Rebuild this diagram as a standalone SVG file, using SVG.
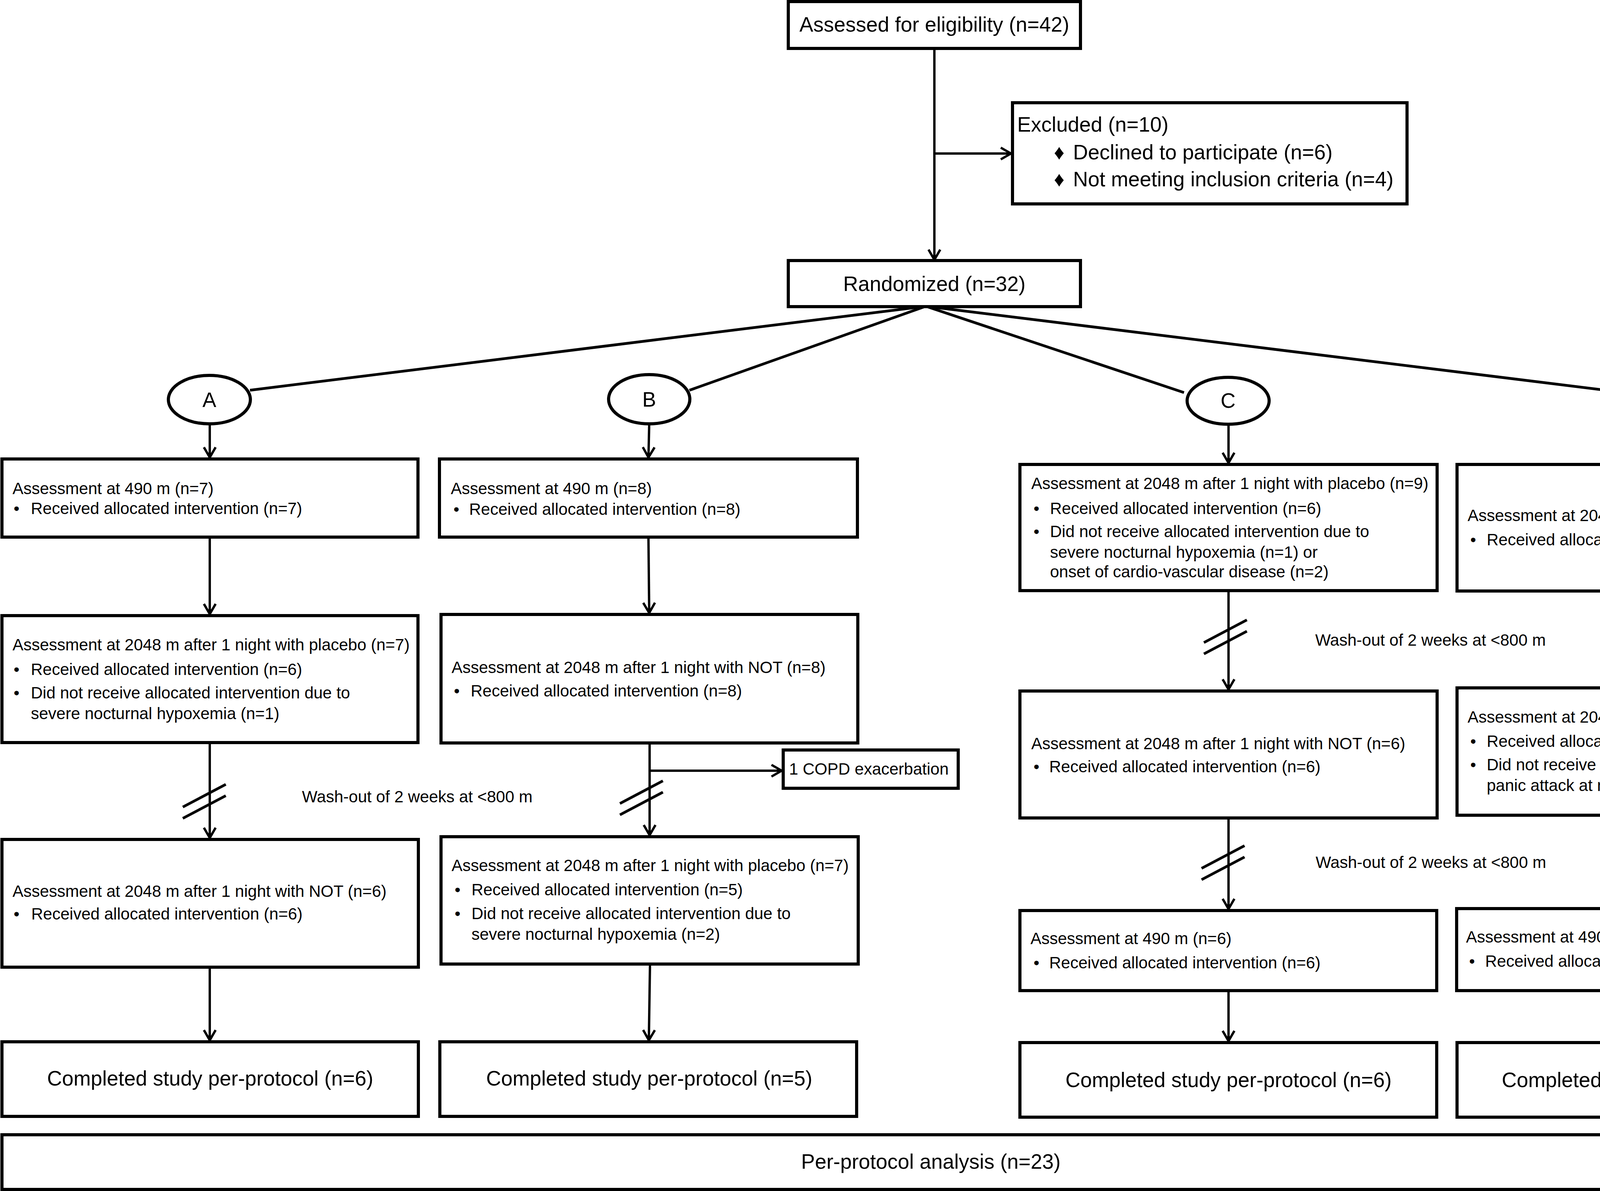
<svg xmlns="http://www.w3.org/2000/svg" xmlns:xlink="http://www.w3.org/1999/xlink" width="5066" height="3049" viewBox="0 0 5066 3049">
<style>
.box{fill:#fff;stroke:#000;stroke-width:8}
.ov{fill:#fff;stroke:#000;stroke-width:8}
.c{fill:none;stroke:#000;stroke-width:6}
.f{fill:none;stroke:#000;stroke-width:7}
.s{font-family:'Liberation Sans',Arial,'DejaVu Sans',sans-serif;font-size:42px;fill:#000}
.l{font-family:'Liberation Sans',Arial,'DejaVu Sans',sans-serif;font-size:53px;fill:#000}
.m{text-anchor:middle}
</style>
<defs>
<marker id="ah" markerUnits="userSpaceOnUse" viewBox="-30 -18 36 36" refX="2" refY="0" markerWidth="36" markerHeight="36" orient="auto">
<path d="M-26,-15 L0,0 L-26,15" fill="none" stroke="#000" stroke-width="6"/>
</marker>
<g id="brk" fill="none" stroke="#000" stroke-width="7">
<line x1="-55" y1="15" x2="55" y2="-43"/>
<line x1="-55" y1="44" x2="55" y2="-14"/>
</g>
</defs>
<rect width="5066" height="3049" fill="#fff"/>

<g id="connectors">
<line class="c" x1="2392" y1="124" x2="2392" y2="667" marker-end="url(#ah)"/>
<line class="c" x1="2392" y1="393" x2="2590" y2="393" marker-end="url(#ah)"/>
<line class="f" x1="2370" y1="784" x2="640" y2="999"/>
<line class="f" x1="2370" y1="784" x2="1765" y2="999"/>
<line class="f" x1="2370" y1="784" x2="3031" y2="1005"/>
<line class="f" x1="2370" y1="784" x2="4159" y2="1005"/>

<line class="c" x1="537" y1="1085" x2="537" y2="1173" marker-end="url(#ah)"/>
<line class="c" x1="537" y1="1375" x2="537" y2="1574" marker-end="url(#ah)"/>
<line class="c" x1="537" y1="1901" x2="537" y2="2147" marker-end="url(#ah)"/>
<line class="c" x1="537" y1="2476" x2="537" y2="2665" marker-end="url(#ah)"/>

<line class="c" x1="1662" y1="1085" x2="1660" y2="1173" marker-end="url(#ah)"/>
<line class="c" x1="1660" y1="1375" x2="1662" y2="1571" marker-end="url(#ah)"/>
<line class="c" x1="1663" y1="1902" x2="1663" y2="2140" marker-end="url(#ah)"/>
<line class="c" x1="1663" y1="1973" x2="2003" y2="1973" marker-end="url(#ah)"/>
<line class="c" x1="1664" y1="2468" x2="1661" y2="2665" marker-end="url(#ah)"/>

<line class="c" x1="3145" y1="1086" x2="3145" y2="1187" marker-end="url(#ah)"/>
<line class="c" x1="3145" y1="1512" x2="3145" y2="1767" marker-end="url(#ah)"/>
<line class="c" x1="3145" y1="2094" x2="3145" y2="2329" marker-end="url(#ah)"/>
<line class="c" x1="3145" y1="2536" x2="3145" y2="2667" marker-end="url(#ah)"/>

<line class="c" x1="4264" y1="1085" x2="4264" y2="1187" marker-end="url(#ah)"/>
<line class="c" x1="4264" y1="1513" x2="4264" y2="1759" marker-end="url(#ah)"/>
<line class="c" x1="4264" y1="2087" x2="4264" y2="2324" marker-end="url(#ah)"/>
<line class="c" x1="4264" y1="2143" x2="4618" y2="2143" marker-end="url(#ah)"/>
<line class="c" x1="4264" y1="2536" x2="4264" y2="2667" marker-end="url(#ah)"/>

<use xlink:href="#brk" href="#brk" x="523" y="2051"/>
<use xlink:href="#brk" href="#brk" x="1642" y="2042"/>
<use xlink:href="#brk" href="#brk" x="3137" y="1630"/>
<use xlink:href="#brk" href="#brk" x="3131" y="2208"/>
<use xlink:href="#brk" href="#brk" x="4252" y="1630"/>
<use xlink:href="#brk" href="#brk" x="4243" y="2208"/>

<text class="s" x="773" y="2054">Wash-out of 2 weeks at &lt;800 m</text>
<text class="s" x="3367" y="1653">Wash-out of 2 weeks at &lt;800 m</text>
<text class="s" x="3368" y="2222">Wash-out of 2 weeks at &lt;800 m</text>
</g>

<g id="assessed">
<rect class="box" x="2018" y="4" width="748" height="120"/>
<text class="l m" x="2392" y="81">Assessed for eligibility (n=42)</text>
</g>

<g id="excluded">
<rect class="box" x="2592" y="263" width="1010" height="259"/>
<text class="l" x="2604" y="337">Excluded (n=10)</text>
<text class="l"><tspan x="2698" y="408">♦</tspan><tspan x="2747" y="408">Declined to participate (n=6)</tspan></text>
<text class="l"><tspan x="2698" y="477">♦</tspan><tspan x="2747" y="477">Not meeting inclusion criteria (n=4)</tspan></text>
</g>

<g id="randomized">
<rect class="box" x="2018" y="667" width="748" height="118"/>
<text class="l m" x="2392" y="745">Randomized (n=32)</text>
</g>

<g id="armA"><ellipse class="ov" cx="536" cy="1023" rx="105" ry="62"/><text class="l m" x="536" y="1042">A</text></g>
<g id="armB"><ellipse class="ov" cx="1662" cy="1022" rx="104" ry="63"/><text class="l m" x="1662" y="1041">B</text></g>
<g id="armC"><ellipse class="ov" cx="3144" cy="1026" rx="105" ry="60"/><text class="l m" x="3144" y="1044">C</text></g>
<g id="armD"><ellipse class="ov" cx="4262" cy="1022" rx="104" ry="63"/><text class="l m" x="4262" y="1041">D</text></g>

<g id="A1">
<rect class="box" x="5" y="1175" width="1065" height="200"/>
<text class="s" x="32" y="1265">Assessment at 490 m (n=7)</text>
<text class="s"><tspan x="35" y="1316">•</tspan><tspan x="79" y="1316">Received allocated intervention (n=7)</tspan></text>
</g>
<g id="A2">
<rect class="box" x="5" y="1576" width="1065" height="325"/>
<text class="s" x="32" y="1665">Assessment at 2048 m after 1 night with placebo (n=7)</text>
<text class="s"><tspan x="35" y="1728">•</tspan><tspan x="79" y="1728">Received allocated intervention (n=6)</tspan></text>
<text class="s"><tspan x="35" y="1788">•</tspan><tspan x="79" y="1788">Did not receive allocated intervention due to</tspan><tspan x="79" y="1841">severe nocturnal hypoxemia (n=1)</tspan></text>
</g>
<g id="A3">
<rect class="box" x="5" y="2149" width="1066" height="327"/>
<text class="s" x="32" y="2296">Assessment at 2048 m after 1 night with NOT (n=6)</text>
<text class="s"><tspan x="35" y="2354">•</tspan><tspan x="80" y="2354">Received allocated intervention (n=6)</tspan></text>
</g>
<g id="A4">
<rect class="box" x="5" y="2667" width="1066" height="191"/>
<text class="l m" x="538" y="2779">Completed study per-protocol (n=6)</text>
</g>

<g id="B1">
<rect class="box" x="1125" y="1175" width="1070" height="200"/>
<text class="s" x="1154" y="1265">Assessment at 490 m (n=8)</text>
<text class="s"><tspan x="1161" y="1318">•</tspan><tspan x="1201" y="1318">Received allocated intervention (n=8)</tspan></text>
</g>
<g id="B2">
<rect class="box" x="1129" y="1573" width="1067" height="329"/>
<text class="s" x="1156" y="1723">Assessment at 2048 m after 1 night with NOT (n=8)</text>
<text class="s"><tspan x="1162" y="1783">•</tspan><tspan x="1205" y="1783">Received allocated intervention (n=8)</tspan></text>
</g>
<g id="B_copd">
<rect class="box" x="2005" y="1920" width="448" height="98"/>
<text class="s" x="2020" y="1983">1 COPD exacerbation</text>
</g>
<g id="B3">
<rect class="box" x="1129" y="2142" width="1068" height="326"/>
<text class="s" x="1156" y="2230">Assessment at 2048 m after 1 night with placebo (n=7)</text>
<text class="s"><tspan x="1164" y="2292">•</tspan><tspan x="1207" y="2292">Received allocated intervention (n=5)</tspan></text>
<text class="s"><tspan x="1164" y="2353">•</tspan><tspan x="1207" y="2353">Did not receive allocated intervention due to</tspan><tspan x="1207" y="2406">severe nocturnal hypoxemia (n=2)</tspan></text>
</g>
<g id="B4">
<rect class="box" x="1126" y="2667" width="1067" height="191"/>
<text class="l m" x="1662" y="2779">Completed study per-protocol (n=5)</text>
</g>

<g id="C1">
<rect class="box" x="2611" y="1189" width="1068" height="323"/>
<text class="s" x="2640" y="1252">Assessment at 2048 m after 1 night with placebo (n=9)</text>
<text class="s"><tspan x="2646" y="1316">•</tspan><tspan x="2688" y="1316">Received allocated intervention (n=6)</tspan></text>
<text class="s"><tspan x="2646" y="1375">•</tspan><tspan x="2688" y="1375">Did not receive allocated intervention due to</tspan><tspan x="2688" y="1428">severe nocturnal hypoxemia (n=1) or</tspan><tspan x="2688" y="1478">onset of cardio-vascular disease (n=2)</tspan></text>
</g>
<g id="C2">
<rect class="box" x="2611" y="1769" width="1068" height="325"/>
<text class="s" x="2640" y="1918">Assessment at 2048 m after 1 night with NOT (n=6)</text>
<text class="s"><tspan x="2646" y="1977">•</tspan><tspan x="2686" y="1977">Received allocated intervention (n=6)</tspan></text>
</g>
<g id="C3">
<rect class="box" x="2611" y="2331" width="1067" height="205"/>
<text class="s" x="2638" y="2417">Assessment at 490 m (n=6)</text>
<text class="s"><tspan x="2646" y="2479">•</tspan><tspan x="2686" y="2479">Received allocated intervention (n=6)</tspan></text>
</g>
<g id="C4">
<rect class="box" x="2611" y="2669" width="1067" height="191"/>
<text class="l m" x="3145" y="2783">Completed study per-protocol (n=6)</text>
</g>

<g id="D1">
<rect class="box" x="3730" y="1189" width="1067" height="324"/>
<text class="s" x="3757" y="1334">Assessment at 2048 m after 1 night with NOT(n=8)</text>
<text class="s"><tspan x="3764" y="1396">•</tspan><tspan x="3806" y="1396">Received allocated intervention (n=8)</tspan></text>
</g>
<g id="D2">
<rect class="box" x="3730" y="1761" width="1067" height="326"/>
<text class="s" x="3757" y="1850">Assessment at 2048 m after 1 night with placebo (n=8)</text>
<text class="s"><tspan x="3764" y="1912">•</tspan><tspan x="3806" y="1912">Received allocated intervention (n=7)</tspan></text>
<text class="s"><tspan x="3764" y="1972">•</tspan><tspan x="3806" y="1972">Did not receive allocated intervention due to</tspan><tspan x="3806" y="2025">panic attack at night (n=1)</tspan></text>
</g>
<g id="D_copd">
<rect class="box" x="4620" y="2108" width="441" height="98"/>
<text class="s" x="4636" y="2171">1 COPD exacerbation</text>
</g>
<g id="D3">
<rect class="box" x="3729" y="2326" width="1065" height="210"/>
<text class="s" x="3753" y="2413">Assessment at 490 m (n=6)</text>
<text class="s"><tspan x="3761" y="2475">•</tspan><tspan x="3802" y="2475">Received allocated intervention (n=6)</tspan></text>
</g>
<g id="D4">
<rect class="box" x="3730" y="2669" width="1066" height="191"/>
<text class="l m" x="4262" y="2783">Completed study per-protocol (n=6)</text>
</g>

<g id="analysis">
<rect class="box" x="5" y="2905" width="4763" height="140"/>
<text class="l m" x="2383" y="2992">Per-protocol analysis (n=23)</text>
</g>
</svg>
